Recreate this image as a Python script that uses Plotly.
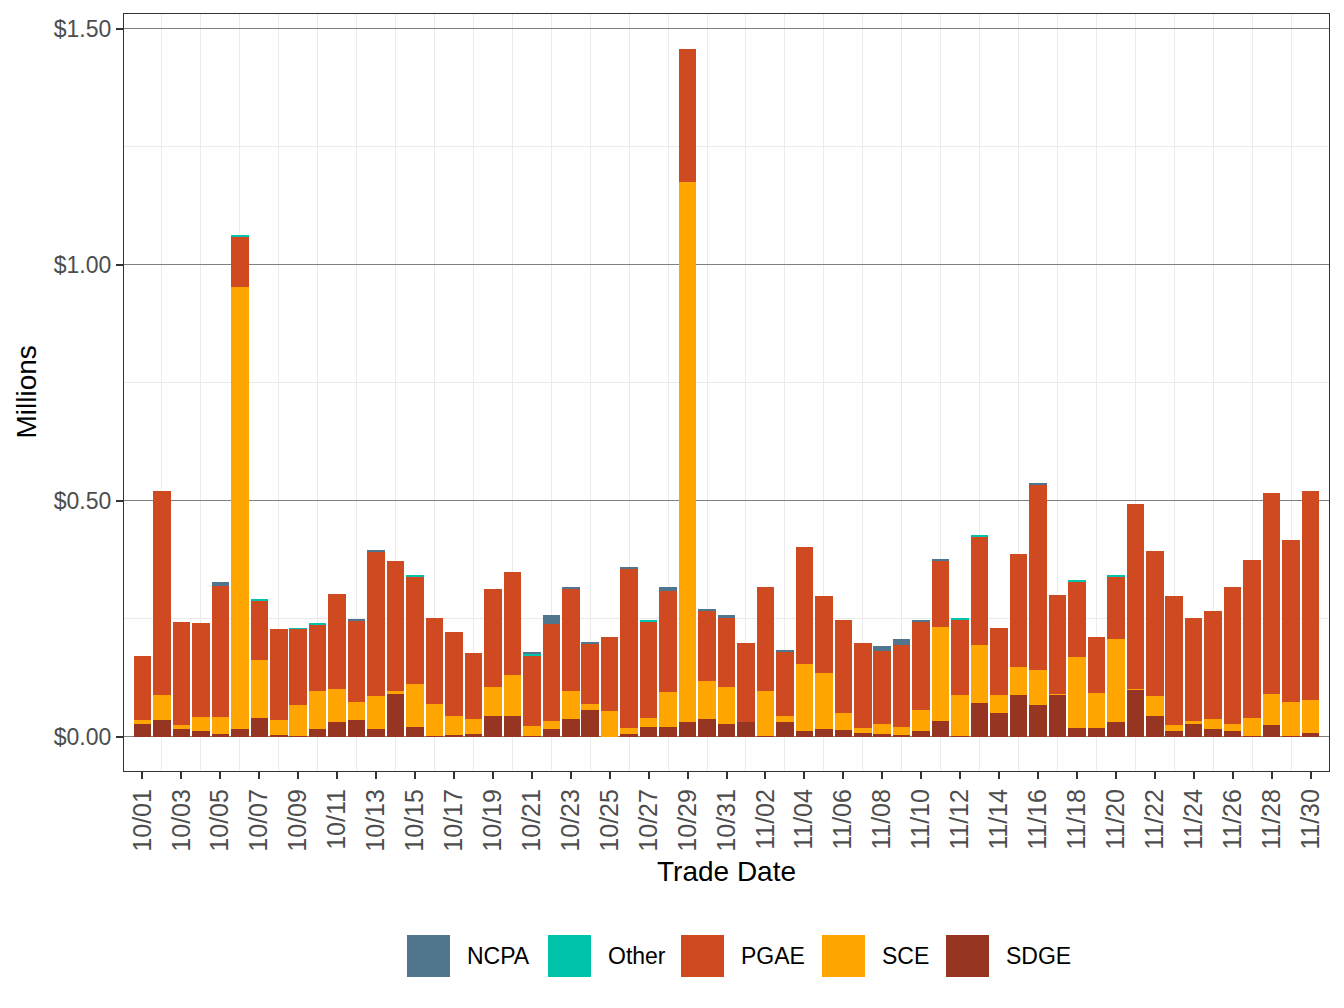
"""
Daily stacked bars by utility, 10/01 - 11/30, in millions of dollars
"""

import pandas as pd
import plotly.graph_objects as go

# ---- data (millions $) ----
trade_dates = pd.date_range("2023-10-01", "2023-11-30", freq="D")

sdge = [0.027, 0.036, 0.017, 0.011, 0.006, 0.017, 0.040, 0.004, 0.002, 0.015,
        0.030, 0.036, 0.015, 0.091, 0.021, 0.002, 0.004, 0.006, 0.044, 0.044,
        0.002, 0.015, 0.038, 0.057, 0.000, 0.006, 0.021, 0.021, 0.030, 0.038,
        0.027, 0.030, 0.002, 0.030, 0.011, 0.015, 0.013, 0.008, 0.006, 0.004,
        0.011, 0.034, 0.002, 0.072, 0.049, 0.087, 0.066, 0.089, 0.019, 0.019,
        0.030, 0.099, 0.044, 0.011, 0.027, 0.015, 0.011, 0.002, 0.025, 0.002,
        0.008]

sce = [0.009, 0.053, 0.008, 0.031, 0.036, 0.936, 0.123, 0.032, 0.064, 0.082,
       0.071, 0.038, 0.070, 0.006, 0.091, 0.066, 0.040, 0.032, 0.062, 0.087,
       0.021, 0.017, 0.059, 0.013, 0.055, 0.013, 0.019, 0.074, 1.145, 0.080,
       0.077, 0.000, 0.095, 0.014, 0.143, 0.120, 0.036, 0.011, 0.021, 0.017,
       0.046, 0.199, 0.087, 0.123, 0.040, 0.061, 0.074, 0.002, 0.150, 0.074,
       0.177, 0.002, 0.041, 0.014, 0.007, 0.023, 0.016, 0.038, 0.066, 0.072,
       0.070]

pgae = [0.135, 0.431, 0.218, 0.199, 0.277, 0.107, 0.125, 0.192, 0.162, 0.140,
        0.201, 0.171, 0.308, 0.275, 0.228, 0.184, 0.178, 0.140, 0.207, 0.218,
        0.148, 0.207, 0.216, 0.127, 0.156, 0.338, 0.203, 0.214, 0.282, 0.148,
        0.148, 0.169, 0.220, 0.136, 0.248, 0.163, 0.198, 0.180, 0.155, 0.174,
        0.186, 0.139, 0.160, 0.228, 0.141, 0.239, 0.395, 0.209, 0.159, 0.118,
        0.133, 0.392, 0.308, 0.273, 0.218, 0.228, 0.290, 0.334, 0.425, 0.342,
        0.442]

other = [0, 0, 0, 0, 0, 0.002, 0.002, 0, 0.002, 0.002,
         0, 0, 0, 0, 0.002, 0, 0, 0, 0, 0,
         0.004, 0, 0, 0, 0, 0, 0.002, 0, 0, 0,
         0, 0, 0, 0, 0, 0, 0, 0, 0, 0,
         0, 0, 0.003, 0.002, 0, 0, 0, 0, 0.002, 0,
         0.002, 0, 0, 0, 0, 0, 0, 0, 0, 0,
         0]

ncpa = [0, 0, 0, 0, 0.009, 0, 0, 0, 0, 0,
        0, 0.002, 0.002, 0, 0, 0, 0, 0, 0, 0,
        0.003, 0.019, 0.002, 0.004, 0, 0.002, 0, 0.008, 0, 0.005,
        0.006, 0, 0, 0.004, 0, 0, 0, 0, 0.010, 0.012,
        0.004, 0.004, 0, 0, 0, 0, 0.002, 0, 0, 0,
        0, 0, 0, 0, 0, 0, 0, 0, 0, 0,
        0]

y_tickvals = [0, 0.5, 1.0, 1.5]
y_ticktext = ["$0.00", "$0.50", "$1.00", "$1.50"]

# stacking order bottom -> top
series = [
    ("SDGE", sdge, "#963522"),
    ("SCE", sce, "#FFA500"),
    ("PGAE", pgae, "#D04A21"),
    ("Other", other, "#00C4AA"),
    ("NCPA", ncpa, "#51758C"),
]
legend_order = ["NCPA", "Other", "PGAE", "SCE", "SDGE"]
colors = {name: col for name, _, col in series}

FONT = "Liberation Sans, Arial, sans-serif"
OFF = 8  # page body margin in the browser
W, H = 1344 - OFF, 1008 - OFF
L, R, T, B = 124 - OFF, 15, 14 - OFF, 237
DAY_MS = 86400000


def px_x(px):
    """screen pixel x -> paper x"""
    return (px - OFF - L) / (W - L - R)


def px_y(py):
    """screen pixel y -> paper y"""
    return (H - B - (py - OFF)) / (H - T - B)


fig = go.Figure()
for name, vals, col in series:
    fig.add_trace(go.Bar(
        x=trade_dates,
        y=vals,
        name=name,
        width=0.9 * DAY_MS,
        marker=dict(color=col, line=dict(width=0)),
        showlegend=False,
    ))

x0 = trade_dates[0] - pd.Timedelta(hours=0.95 * 24)
x1 = trade_dates[-1] + pd.Timedelta(hours=0.95 * 24)
between_days = list(trade_dates[1::2])

fig.update_layout(
    width=W,
    height=H,
    barmode="stack",
    bargap=0,
    margin=dict(l=L, r=R, t=T, b=B),
    paper_bgcolor="white",
    plot_bgcolor="white",
    font=dict(family=FONT, size=22, color="#4D4D4D"),
    xaxis=dict(
        type="date",
        range=[x0, x1],
        tick0="2023-10-01",
        dtick=2 * DAY_MS,
        tickformat="%m/%d",
        tickangle=-90,
        ticks="outside",
        ticklen=7,
        tickwidth=1.6,
        tickcolor="#333333",
        tickfont=dict(size=25, color="#4D4D4D"),
        showgrid=False,
        minor=dict(tickmode="array", tickvals=between_days, showgrid=True,
                   gridcolor="#EBEBEB", gridwidth=1.2, ticks=""),
        showline=True,
        linecolor="#333333",
        linewidth=1.2,
        mirror=True,
        zeroline=False,
    ),
    yaxis=dict(
        range=[-0.073, 1.531],
        tickvals=y_tickvals,
        ticktext=y_ticktext,
        ticks="outside",
        ticklen=7,
        tickwidth=1.6,
        tickcolor="#333333",
        tickfont=dict(size=23, color="#4D4D4D"),
        showgrid=True,
        gridcolor="#7F7F7F",
        gridwidth=1,
        minor=dict(tickvals=[0.25, 0.75, 1.25], showgrid=True,
                   gridcolor="#EBEBEB", gridwidth=1.2, ticks=""),
        showline=True,
        linecolor="#333333",
        linewidth=1.2,
        mirror=True,
        zeroline=False,
    ),
)

# axis titles
fig.add_annotation(text="Trade Date", xref="paper", yref="paper",
                   x=0.5, y=px_y(872), xanchor="center", yanchor="middle",
                   showarrow=False, font=dict(size=28, color="black"))
fig.add_annotation(text="Millions", xref="paper", yref="paper",
                   x=px_x(26), y=0.5, xanchor="center", yanchor="middle",
                   textangle=-90, showarrow=False,
                   font=dict(size=28, color="black"))

# legend drawn by hand, big square keys like the reference
key_left = [407, 548, 681, 822, 946]
for name, kx in zip(legend_order, key_left):
    fig.add_shape(type="rect", xref="paper", yref="paper",
                  x0=px_x(kx), x1=px_x(kx + 43),
                  y0=px_y(977), y1=px_y(935),
                  fillcolor=colors[name], line=dict(width=0))
    fig.add_annotation(text=name, xref="paper", yref="paper",
                       x=px_x(kx + 58), y=px_y(956),
                       xanchor="left", yanchor="middle", showarrow=False,
                       font=dict(size=23, color="black"))

fig.write_html("out.html")
